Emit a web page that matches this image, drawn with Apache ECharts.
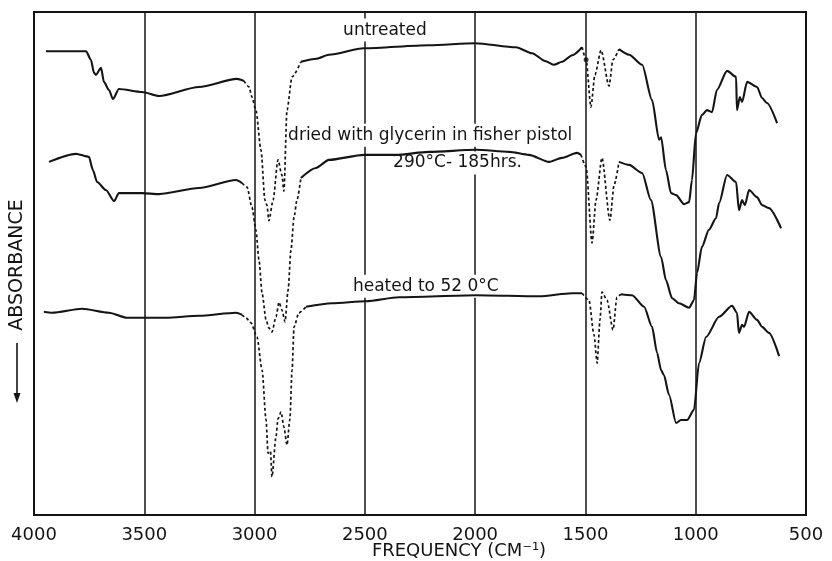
<!DOCTYPE html>
<html><head><meta charset="utf-8">
<script src="https://cdn.jsdelivr.net/npm/echarts@6/dist/echarts.min.js"></script>
<style>html,body{margin:0;padding:0;background:#fff}#c{width:832px;height:561px}</style>
</head><body><div id="c"></div>
<script>
// wavenumber (cm-1), relative absorbance (increasing downward)
const untreatedSolidA = [[3946,7.8],[3764,7.8],[3742,9.5],[3728,12.1],[3719,12.5],[3696,11.1],[3683,13.9],[3660,15.5],[3642,17.3],[3615,15.3],[3510,15.9],[3433,16.7],[3252,14.9],[3080,13.3],[3048,13.7]];
const untreatedDashA = [[3048,13.7],[3025,14.9],[3012,16.9],[2994,19.5],[2971,27.4],[2953,37.4],[2944,38.4],[2935,41.5],[2916,37.4],[2894,29.4],[2876,32.4],[2867,35.6],[2853,19.5],[2830,12.9],[2790,9.9]];
const untreatedSolidB = [[2790,9.9],[2720,9.3],[2663,8.5],[2504,7.2],[2209,6.6],[2000,6.2],[1815,7.0],[1742,8.2],[1680,9.8],[1642,10.5],[1606,9.9],[1560,8.6],[1515,7.0]];
const untreatedDashB = [[1515,7.0],[1497,9.5],[1475,18.9],[1457,12.5],[1429,7.6],[1393,14.7],[1375,9.5],[1348,7.4]];
const untreatedSolidC = [[1348,7.4],[1302,8.5],[1243,10.5],[1198,17.5],[1166,25.4],[1157,24.9],[1135,31.4],[1112,36.0],[1089,36.4],[1053,38.2],[1030,37.8],[1017,33.4],[999,24.1],[972,20.5],[949,19.5],[926,19.9],[904,15.5],[858,11.7],[817,12.9],[813,19.5],[800,16.9],[790,17.9],[767,13.9],[722,14.9],[699,17.1],[677,18.1],[631,22.1]];
const untreatedSpot = [[1497,9.5]];

const driedSolidA = [[3932,29.8],[3810,28.2],[3751,28.8],[3733,31.4],[3714,33.8],[3674,35.4],[3637,37.6],[3615,36.0],[3510,36.0],[3433,36.2],[3252,35.0],[3084,33.4],[3057,34.0]];
const driedDashA = [[3057,34.0],[3034,34.8],[3012,38.8],[2994,43.3],[2980,49.3],[2966,55.9],[2948,61.2],[2935,62.8],[2921,63.6],[2903,60.6],[2889,57.7],[2876,59.2],[2862,61.6],[2848,55.3],[2835,47.3],[2821,40.8],[2808,37.4],[2790,33.0]];
const driedSolidB = [[2790,33.0],[2722,31.0],[2663,29.4],[2504,28.4],[2359,28.4],[2209,27.8],[1996,27.4],[1846,27.8],[1756,28.4],[1665,29.8],[1606,29.0],[1538,28.0],[1520,28.4]];
const driedDashB = [[1520,28.4],[1497,30.8],[1470,45.9],[1452,37.4],[1425,29.0],[1389,41.4],[1370,34.4],[1348,29.8]];
const driedSolidC = [[1348,29.8],[1302,30.4],[1243,32.0],[1203,37.4],[1157,48.7],[1135,53.3],[1107,56.9],[1076,57.9],[1030,58.8],[1008,57.3],[994,51.9],[972,46.7],[940,43.3],[908,41.0],[894,38.0],[858,32.4],[817,33.8],[804,39.4],[790,37.4],[777,38.4],[758,35.4],[722,36.8],[699,38.4],[668,39.0],[613,43.0]];

const heatedSolidA = [[3955,59.6],[3918,59.8],[3782,59.0],[3660,59.8],[3578,60.8],[3402,60.8],[3252,60.4],[3084,59.8],[3057,60.2]];
const heatedDashA = [[3057,60.2],[3039,60.8],[3016,61.8],[2989,64.6],[2966,71.2],[2948,81.1],[2939,87.7],[2928,87.3],[2921,92.4],[2903,84.5],[2894,80.9],[2880,79.5],[2867,82.5],[2853,86.1],[2840,81.0],[2830,71.2],[2821,62.6],[2799,59.8],[2767,58.6]];
const heatedSolidB = [[2767,58.6],[2649,57.9],[2495,57.5],[2345,56.7],[1996,56.3],[1710,56.5],[1561,55.9],[1515,55.9]];
const heatedDashB = [[1515,55.9],[1484,57.3],[1461,64.2],[1447,69.8],[1434,61.2],[1425,55.7],[1402,57.3],[1375,63.2],[1357,56.7],[1339,56.1]];
const heatedSolidC = [[1339,56.1],[1289,56.3],[1234,58.6],[1198,62.6],[1175,67.8],[1157,71.2],[1144,72.2],[1121,76.1],[1089,81.7],[1067,81.1],[1039,81.1],[1008,79.1],[985,69.8],[953,64.6],[894,60.6],[835,58.4],[813,59.8],[804,63.8],[790,62.2],[781,62.6],[758,59.6],[722,61.2],[699,62.6],[668,63.8],[622,68.4]];

const xTicks = { min: 500, max: 4000, step: 500 };
const labels = ['untreated', 'dried with glycerin in fisher pistol', '290°C- 185hrs.', 'heated to 52 0°C'];
const yTitle = 'ABSORBANCE';
const xTitle = 'FREQUENCY (CM⁻¹)';

const INK = '#141414';
const FONT = '"DejaVu Sans", sans-serif';

function seg(data, dashed) {
  return {
    type: 'line', data: data, symbol: 'none', showSymbol: false, silent: true,
    smooth: 0.25, smoothMonotone: 'x', z: 3, animation: false,
    lineStyle: dashed ? { color: INK, width: 1.7, type: [3, 2.5] } : { color: INK, width: 2.1 }
  };
}

const chart = echarts.init(document.getElementById('c'), null, { renderer: 'canvas' });
chart.setOption({
  backgroundColor: '#fff',
  animation: false,
  grid: { left: 34, right: 26, top: 12, bottom: 46, show: true, borderColor: INK, borderWidth: 2, backgroundColor: 'transparent' },
  xAxis: {
    type: 'value', min: xTicks.min, max: xTicks.max, interval: xTicks.step, inverse: true,
    axisLine: { show: false }, axisTick: { show: false },
    splitLine: { show: true, lineStyle: { color: INK, width: 1.5 } },
    axisLabel: { fontSize: 18, fontFamily: FONT, color: INK, margin: 11, formatter: function (v) { return String(v); } }
  },
  yAxis: { type: 'value', min: 0, max: 100, inverse: true, show: false },
  series: [
    seg(untreatedSolidA, false), seg(untreatedDashA, true), seg(untreatedSolidB, false), seg(untreatedDashB, true), seg(untreatedSolidC, false),
    seg(driedSolidA, false), seg(driedDashA, true), seg(driedSolidB, false), seg(driedDashB, true), seg(driedSolidC, false),
    seg(heatedSolidA, false), seg(heatedDashA, true), seg(heatedSolidB, false), seg(heatedDashB, true), seg(heatedSolidC, false),
    { type: 'scatter', data: untreatedSpot, symbolSize: 5, itemStyle: { color: INK }, silent: true, z: 4 }
  ]
});

function px(w, v) { return chart.convertToPixel({ gridIndex: 0 }, [w, v]); }
function txt(p, text, align, size) {
  return { type: 'text', x: p[0], y: p[1], z: 1,
    style: { text: text, fontSize: size || 17, fontFamily: FONT, fill: INK, align: align, verticalAlign: 'middle', backgroundColor: '#fff', padding: [3, 2] } };
}
const pU = px(2409, 3.6), pD = px(2857, 24.5), pT = px(2381, 30.0), pH = px(2563, 54.5);
const axisBottom = px(4000, 100)[1];
chart.setOption({
  graphic: [
    txt(pU, labels[0], 'center'),
    txt(pD, labels[1], 'left'),
    txt(pT, labels[2], 'left'),
    txt(pH, labels[3], 'left'),
    { type: 'text', x: 459, y: axisBottom + 36, z: 5,
      style: { text: xTitle, fontSize: 18, fontFamily: FONT, fill: INK, align: 'center', verticalAlign: 'middle' } },
    { type: 'text', x: 17, y: 265, rotation: Math.PI / 2, z: 5,
      style: { text: yTitle, fontSize: 19, fontFamily: FONT, fill: INK, align: 'center', verticalAlign: 'middle' } },
    { type: 'line', z: 5, shape: { x1: 17, y1: 343, x2: 17, y2: 396 }, style: { stroke: INK, lineWidth: 1.6 } },
    { type: 'polygon', z: 5, shape: { points: [[13.5, 393], [20.5, 393], [17, 403]] }, style: { fill: INK } }
  ]
});
</script></body></html>
